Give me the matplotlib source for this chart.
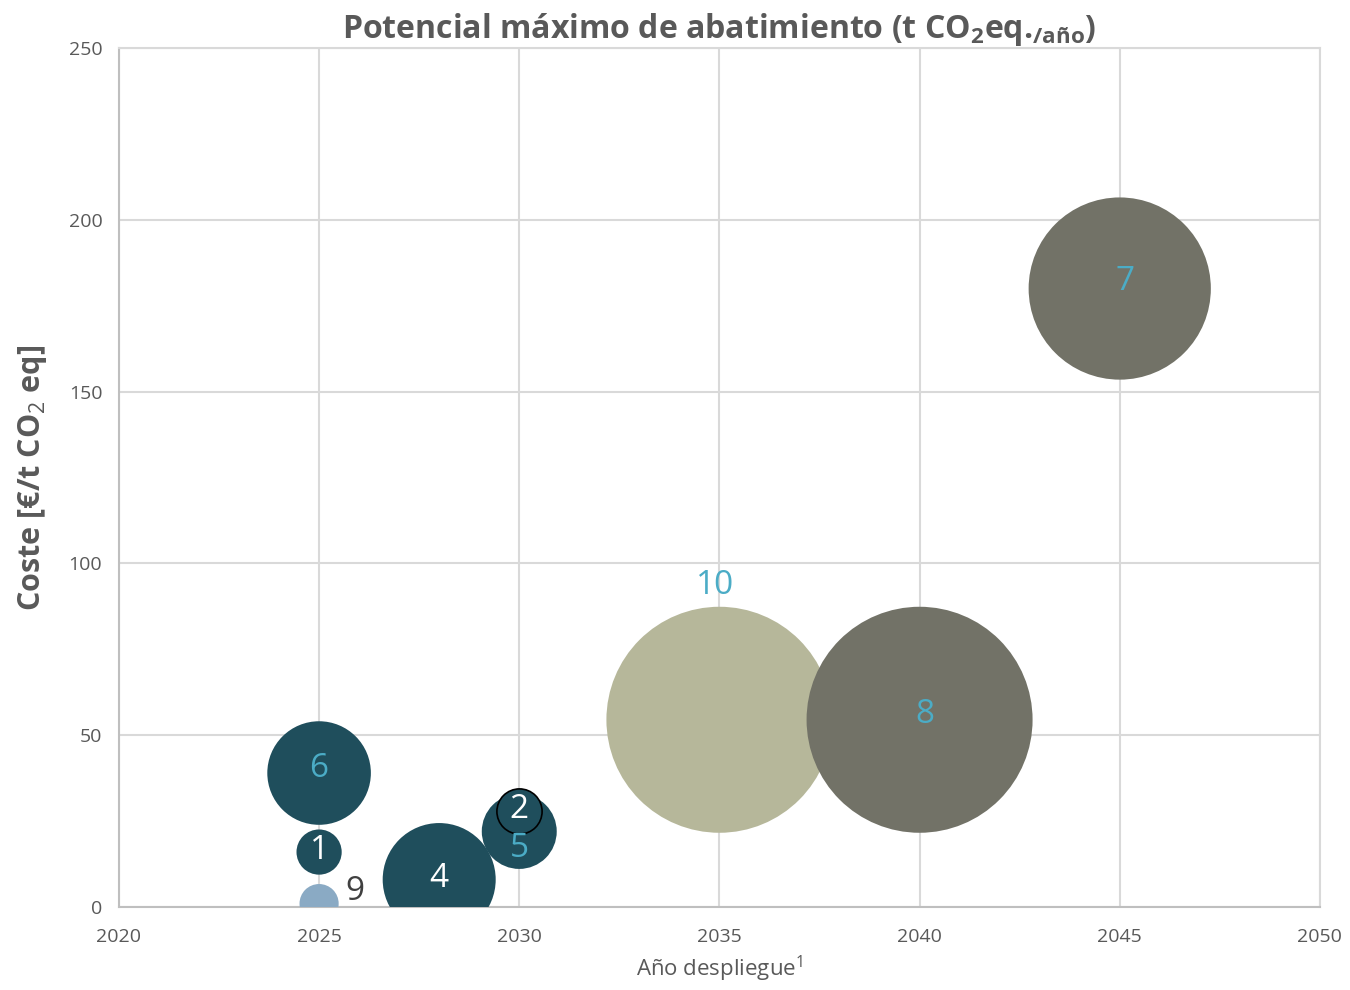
import matplotlib.pyplot as plt
import numpy as np

plt.rcParams['font.family'] = ['Open Sans', 'DejaVu Sans']
plt.rcParams['mathtext.fontset'] = 'custom'
plt.rcParams['mathtext.rm'] = 'Open Sans'
plt.rcParams['mathtext.bf'] = 'Open Sans:bold'

# medidas por orden de dibujo
labels = ['9', '6', '1', '4', '5', '2', '10', '8', '7']
year = [2025, 2025, 2025, 2028, 2030, 2030, 2035, 2040, 2045]
cost = [1, 39, 16, 8, 22, 28, 54.5, 54.5, 180]
potential = [3, 21, 4, 25, 11, 4, 100, 100, 65]

colors = ['#8aaac4', '#1f4e5c', '#1f4e5c', '#1f4e5c', '#1f4e5c', '#1f4e5c',
          '#b6b79a', '#727267', '#727267']
edges = ['none', 'none', 'none', 'none', 'none', 'black', 'none', 'none', 'none']
txt_colors = ['#404040', '#4bacc6', 'white', 'white', '#4bacc6', 'white',
              '#4bacc6', '#4bacc6', '#4bacc6']
# desplazamiento de etiquetas en puntos
txt_off = [(26, 9), (0, 3), (0, 1), (0, 1), (0, -12), (0, 1), (-3, 97), (4, 4), (4, 5)]

fig = plt.figure(figsize=(13.5, 9.9), dpi=100)
ax = fig.add_axes([0.0881, 0.0838, 0.8896, 0.8677])

scale = 264.8
for i in range(len(labels)):
    ax.scatter(year[i], cost[i], s=potential[i] * scale, color=colors[i],
               edgecolors=edges[i], linewidths=1.2, zorder=3 + i)
    ax.annotate(labels[i], (year[i], cost[i]), xytext=txt_off[i],
                textcoords='offset points', ha='center', va='center',
                fontsize=24, color=txt_colors[i], zorder=20)

ax.set_xlim(2020, 2050)
ax.set_ylim(0, 250)
ax.set_xticks(np.arange(2020, 2051, 5))
ax.set_yticks(np.arange(0, 251, 50))
ax.grid(True, color='#d9d9d9', linewidth=1.5, zorder=0)
ax.set_axisbelow(True)
for side in ['top', 'right']:
    ax.spines[side].set_color('#d9d9d9')
    ax.spines[side].set_linewidth(1.5)
for side in ['left', 'bottom']:
    ax.spines[side].set_color('#bfbfbf')
    ax.spines[side].set_linewidth(1.5)
ax.tick_params(length=0, labelsize=14, labelcolor='#595959')
ax.tick_params(axis='x', pad=15)
ax.tick_params(axis='y', pad=12)

ax.set_title(r'Potencial máximo de abatimiento (t CO$_\mathbf{2}$eq.$_\mathbf{/año}$)',
             fontsize=23, fontweight='bold', color='#595959', pad=4)
ax.set_ylabel('Coste [€/t CO$_2$ eq]', fontsize=22, fontweight='bold',
              color='#595959', labelpad=14)
ax.set_xlabel('Año despliegue$^1$', fontsize=16, color='#595959', labelpad=6)

plt.savefig('out.png', dpi=100)
